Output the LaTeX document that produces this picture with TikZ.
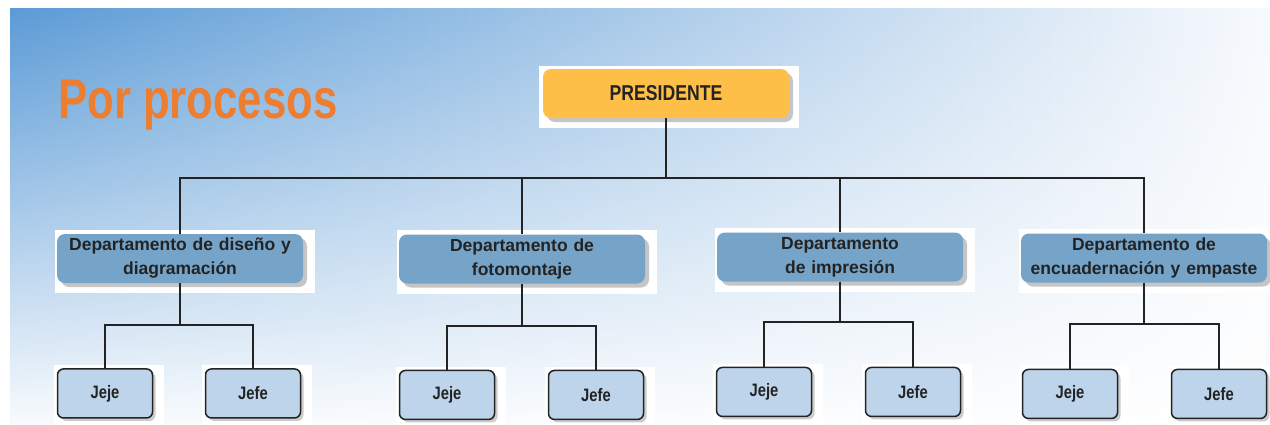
\documentclass[tikz,border=0pt]{standalone}
\usepackage{fontspec}
\setmainfont{Liberation Sans}
\newfontfamily\narrowfont{Liberation Sans}[FakeStretch=0.82]
\newfontfamily\titlefont{Liberation Sans}[FakeStretch=0.78]
\usepackage{xcolor}
\usepackage{tikz}
\definecolor{titleOrange}{HTML}{ED7D31}
\definecolor{presOrange}{HTML}{FDBF47}
\definecolor{deptBlue}{HTML}{76A4C9}
\definecolor{leafBlue}{HTML}{BDD4EB}
\definecolor{skyBlue}{HTML}{5B9BD6}
\definecolor{paleSky}{HTML}{F8FAFD}
\definecolor{inkGrey}{HTML}{232323}
\usetikzlibrary{positioning,shadows,fadings,backgrounds}
\tikzstyle{boss} = [rectangle, rounded corners=8pt, fill=presOrange, text=inkGrey, minimum width=246pt, minimum height=49pt, font=\narrowfont\bfseries\fontsize{21.5}{24}\selectfont, drop shadow={shadow xshift=4pt, shadow yshift=-4pt, opacity=0.45}]
\tikzstyle{dept} = [rectangle, rounded corners=8pt, fill=deptBlue, text=inkGrey, minimum width=246pt, minimum height=49pt, inner sep=1pt, text width=240pt, align=center, font=\bfseries\fontsize{17.5}{24}\selectfont, drop shadow={shadow xshift=4pt, shadow yshift=-4pt, opacity=0.45}]
\tikzstyle{leaf} = [rectangle, rounded corners=6pt, draw=inkGrey, line width=1.5pt, fill=leafBlue, text=inkGrey, minimum width=95pt, minimum height=49pt, font=\narrowfont\bfseries\fontsize{18}{20}\selectfont, drop shadow={shadow xshift=3pt, shadow yshift=-3pt, opacity=0.4}]
\tikzstyle{patch} = [white]
\tikzstyle{line} = [inkGrey, line width=1.6pt]
\tikzstyle{heading} = [anchor=base west, inner sep=0pt, text=titleOrange, font=\titlefont\bfseries\fontsize{56}{60}\selectfont]

\begin{document}
\begin{tikzpicture}[x=1pt, y=1pt]
        \useasboundingbox (0,0) rectangle (1270,-424);
        \node(title) [heading] at (58,-118) {Por procesos};
        \node(P) [boss] at (666,-93.5) {PRESIDENTE};
        \node(D) [dept] at (180,-258.5) {Departamento de diseño y\\diagramación};
        \node(F) [dept] at (522,-259) {Departamento de\\fotomontaje};
        \node(I) [dept] at (840,-257) {Departamento\\de impresión};
        \node(E) [dept] at (1144,-258) {Departamento de\\encuadernación y empaste};
        \node(Dj) [leaf, below=85pt of D, xshift=-75pt] {Jeje};
        \node(Df) [leaf, below=85pt of D, xshift=73pt] {Jefe};
        \node(Fj) [leaf, below=86pt of F, xshift=-75pt] {Jeje};
        \node(Ff) [leaf, below=86pt of F, xshift=74pt] {Jefe};
        \node(Ij) [leaf, below=85pt of I, xshift=-76pt] {Jeje};
        \node(If) [leaf, below=85pt of I, xshift=73pt] {Jefe};
        \node(Ej) [leaf, below=86pt of E, xshift=-74pt] {Jeje};
        \node(Ef) [leaf, below=86pt of E, xshift=75pt] {Jefe};
        % president down to the four departments
        \draw[line] (P.south) -- ++(0,-60) -| (D.north);
        \draw[line] (P.south) -- ++(0,-60) -| (F.north);
        \draw[line] (P.south) -- ++(0,-60) -| (I.north);
        \draw[line] (P.south) -- ++(0,-60) -| (E.north);
        \draw[line] (D.south) -- ++(0,-42) -| (Dj.north);
        \draw[line] (D.south) -- ++(0,-42) -| (Df.north);
        \draw[line] (F.south) -- ++(0,-42) -| (Fj.north);
        \draw[line] (F.south) -- ++(0,-42) -| (Ff.north);
        \draw[line] (I.south) -- ++(0,-40) -| (Ij.north);
        \draw[line] (I.south) -- ++(0,-40) -| (If.north);
        \draw[line] (E.south) -- ++(0,-41) -| (Ej.north);
        \draw[line] (E.south) -- ++(0,-41) -| (Ef.north);
        \begin{pgfonlayer}{background}
            \shade[left color=skyBlue, middle color=skyBlue!50!paleSky, right color=paleSky] (10,-8) rectangle (1270,-424);
            \fill[white, path fading=north] (10,-8) rectangle (1270,-440);
            \fill[patch] ([xshift=-4pt, yshift=3pt]P.north west) rectangle ([xshift=10pt, yshift=-10pt]P.south east);
            \fill[patch] ([xshift=-2pt, yshift=4pt]D.north west) rectangle ([xshift=12pt, yshift=-10pt]D.south east);
            \fill[patch] ([xshift=-2pt, yshift=4pt]F.north west) rectangle ([xshift=12pt, yshift=-10pt]F.south east);
            \fill[patch] ([xshift=-2pt, yshift=4pt]I.north west) rectangle ([xshift=12pt, yshift=-10pt]I.south east);
            \fill[patch] ([xshift=-2pt, yshift=4pt]E.north west) rectangle ([xshift=12pt, yshift=-10pt]E.south east);
            \fill[patch] ([xshift=-3pt, yshift=3pt]Dj.north west) rectangle ([xshift=11pt, yshift=-10pt]Dj.south east);
            \fill[patch] ([xshift=-3pt, yshift=3pt]Df.north west) rectangle ([xshift=11pt, yshift=-10pt]Df.south east);
            \fill[patch] ([xshift=-3pt, yshift=3pt]Fj.north west) rectangle ([xshift=11pt, yshift=-10pt]Fj.south east);
            \fill[patch] ([xshift=-3pt, yshift=3pt]Ff.north west) rectangle ([xshift=11pt, yshift=-10pt]Ff.south east);
            \fill[patch] ([xshift=-3pt, yshift=3pt]Ij.north west) rectangle ([xshift=11pt, yshift=-10pt]Ij.south east);
            \fill[patch] ([xshift=-3pt, yshift=3pt]If.north west) rectangle ([xshift=11pt, yshift=-10pt]If.south east);
            \fill[patch] ([xshift=-3pt, yshift=3pt]Ej.north west) rectangle ([xshift=11pt, yshift=-10pt]Ej.south east);
            \fill[patch] ([xshift=-3pt, yshift=3pt]Ef.north west) rectangle ([xshift=11pt, yshift=-10pt]Ef.south east);
        \end{pgfonlayer}
    \end{tikzpicture}
\end{document}
